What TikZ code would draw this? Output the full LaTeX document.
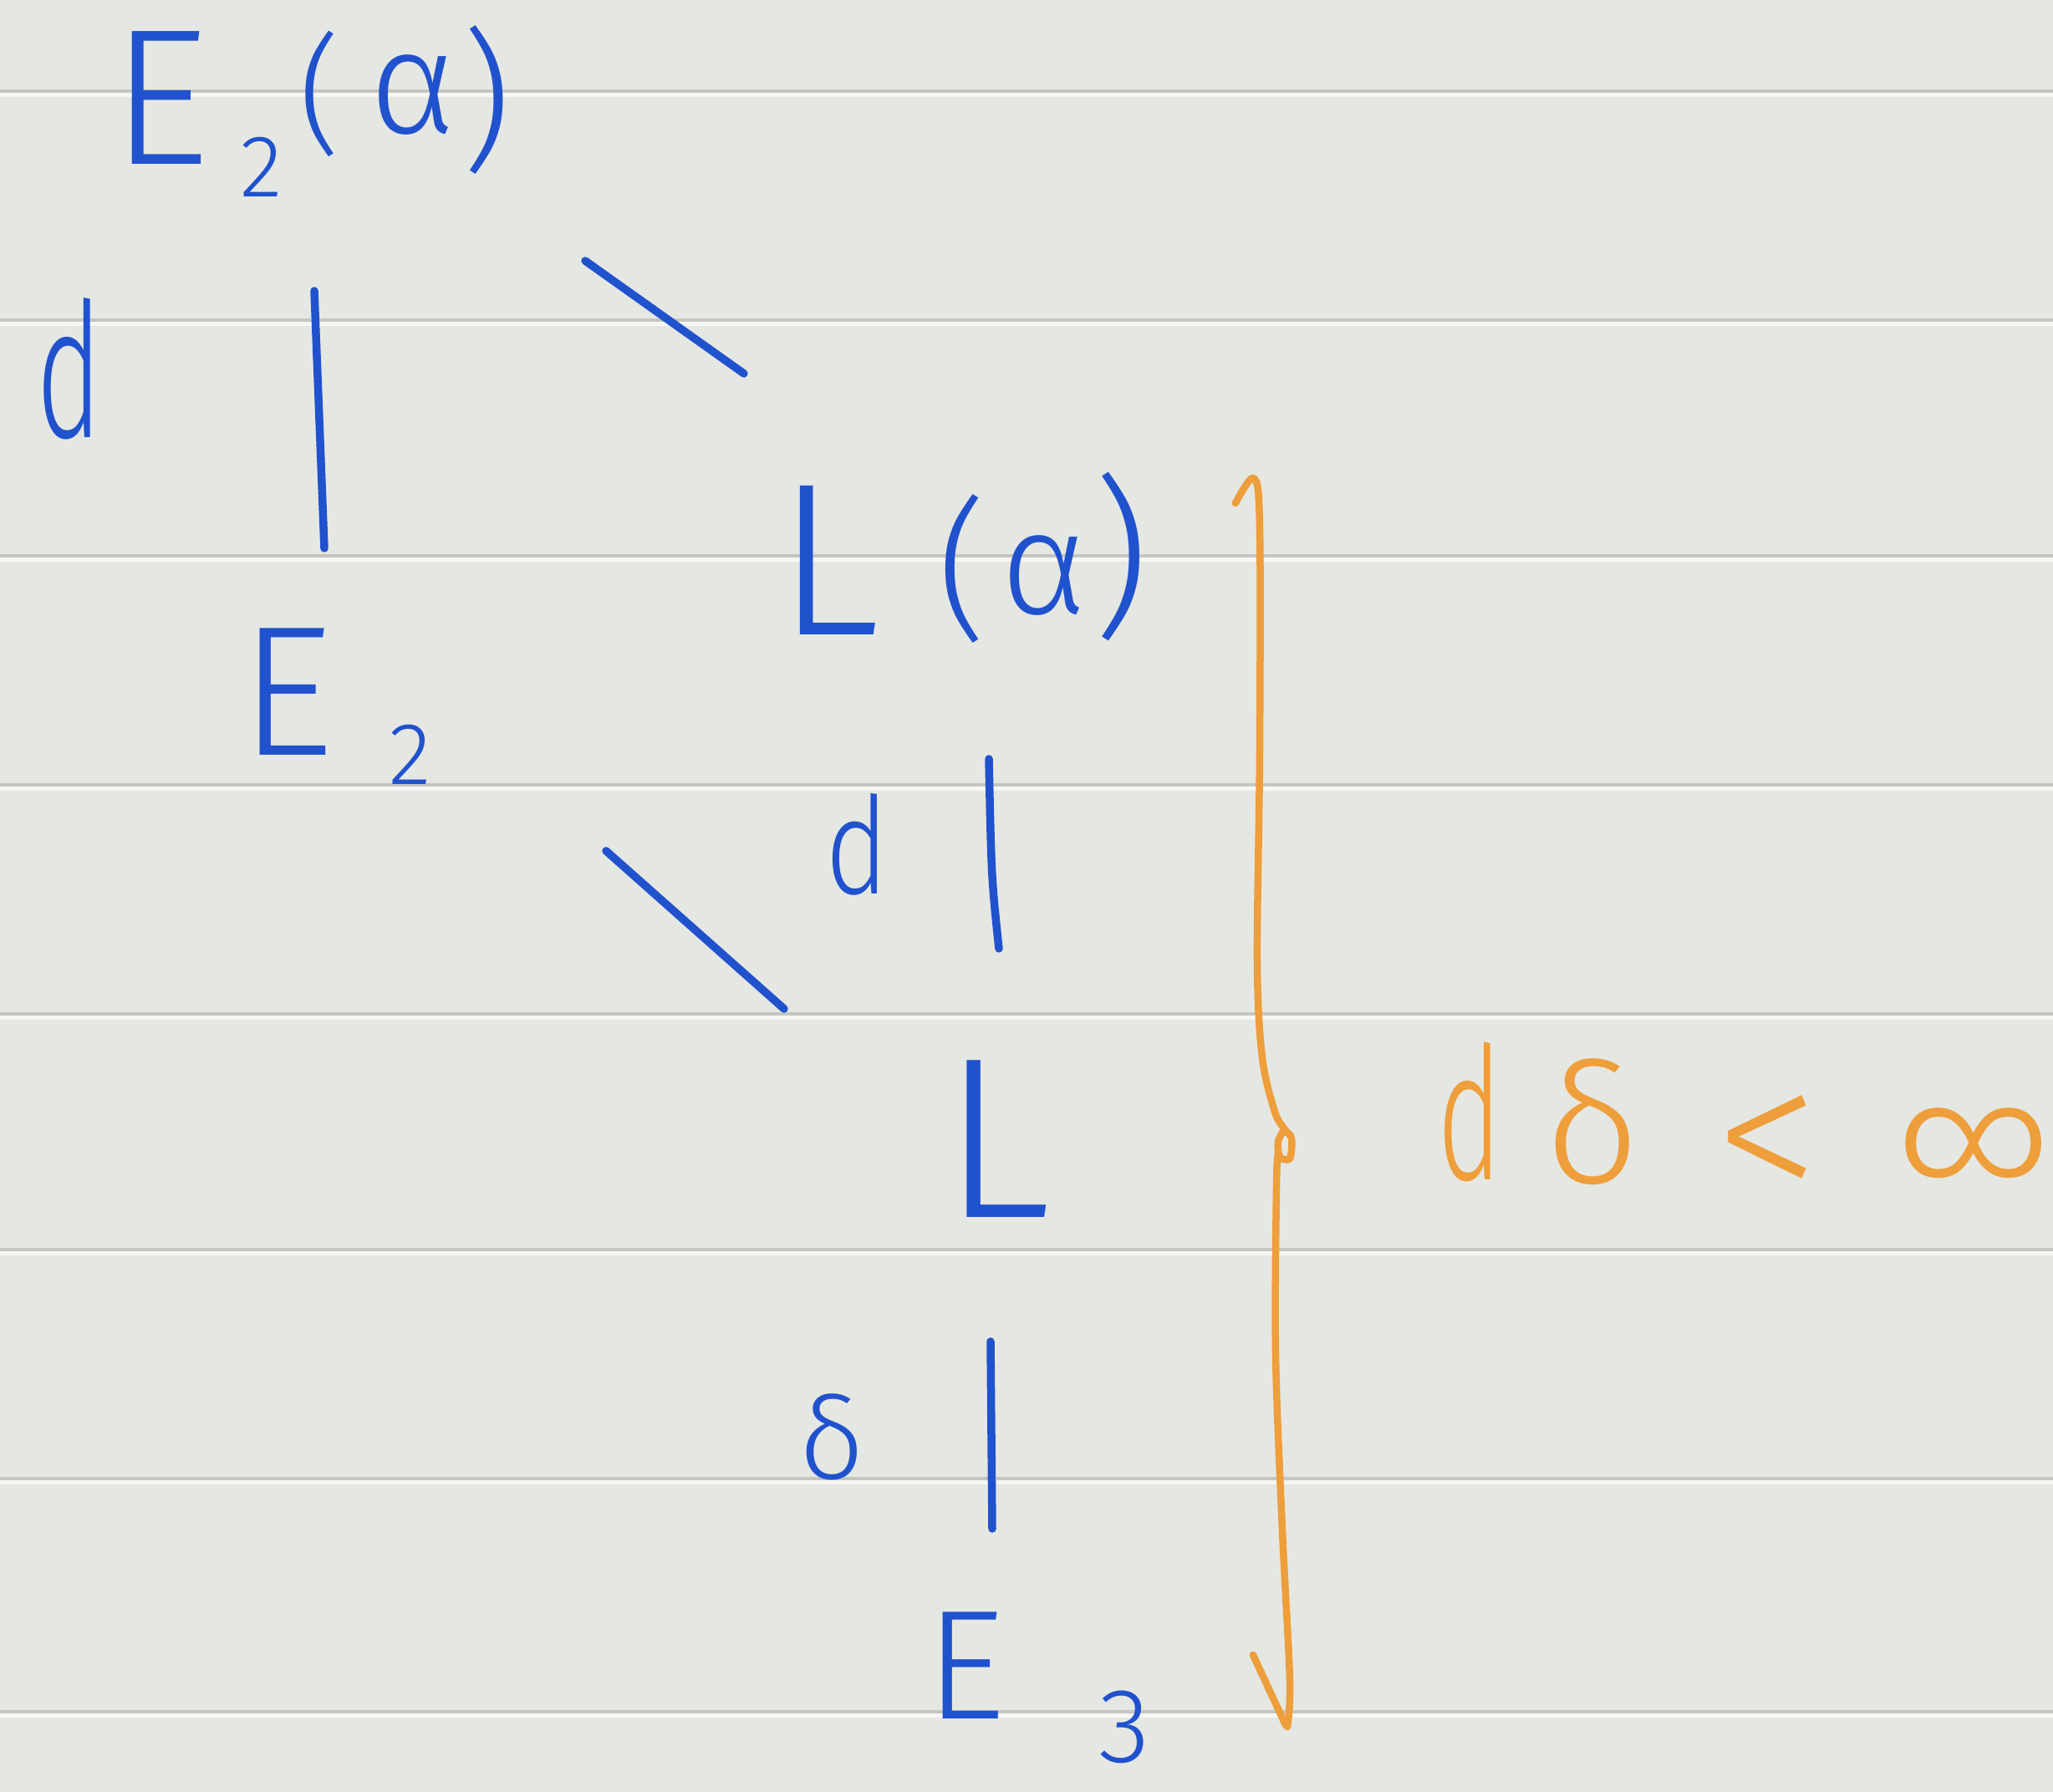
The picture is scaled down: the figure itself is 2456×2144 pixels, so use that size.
\documentclass[tikz,border=0pt]{standalone}
\usepackage{fontspec}
\setmainfont{Fira Sans Light}
\newcommand\gsz[1]{\fontsize{#1}{#1}\selectfont}
\definecolor{paper}{RGB}{229,231,227}
\definecolor{ruleg}{RGB}{196,198,194}
\definecolor{rulew}{RGB}{246,247,245}
\definecolor{inkblue}{RGB}{33,82,205}
\definecolor{inkorange}{RGB}{238,158,58}
\begin{document}
\begin{tikzpicture}[x=0.1mm,y=-0.1mm,
  glyph/.style={inner sep=0pt,outer sep=0pt,anchor=center},
  bl/.style={glyph,text=inkblue},
  og/.style={glyph,text=inkorange},
  bstroke/.style={draw=inkblue,line width=0.95mm,line cap=round,line join=round},
  ostroke/.style={draw=inkorange,line width=0.85mm,line cap=round,line join=round}]
\fill[paper] (0,0) rectangle (2456,2144);
\useasboundingbox (0,0) rectangle (2456,2144);
\foreach \ry in {110,384,666,940,1214,1496,1770,2049}{
  \fill[ruleg] (0,\ry-3) rectangle (2456,\ry+1);
  \fill[rulew] (0,\ry+1) rectangle (2456,\ry+6);
}
% E_2(alpha)
\node[bl,font=\gsz{66}] (ta-E) at (192,117) {E};
\node[bl,font=\gsz{30}] (ta-2) at (313,200) {2};
\node[bl,font=\gsz{44}] (ta-lp) at (383,112) {(};
\node[bl,font=\gsz{50}] (ta-a) at (494,114) {α};
\node[bl,font=\gsz{52}] (ta-rp) at (582,120) {)};
% left d
\node[bl,font=\gsz{64}] (ld) at (83,441) {\scalebox{0.6}[1]{d}};
% E_2
\node[bl,font=\gsz{63}] (mb-E) at (343,828) {E};
\node[bl,font=\gsz{30}] (mb-2) at (491,903) {2};
% L(alpha)
\node[bl,font=\gsz{74}] (la-L) at (991,670) {L};
\node[bl,font=\gsz{52}] (la-lp) at (1151,681) {(};
\node[bl,font=\gsz{50}] (la-a) at (1249,689) {α};
\node[bl,font=\gsz{59}] (la-rp) at (1341,666) {)};
% d middle
\node[bl,font=\gsz{46}] (md) at (1025,1010) {\scalebox{0.8}[1]{d}};
% L
\node[bl,font=\gsz{78}] (ml) at (1192,1363) {L};
% delta
\node[bl,font=\gsz{39}] (dl) at (995,1719) {δ};
% E_3
\node[bl,font=\gsz{53}] (e3-E) at (1155,1993) {E};
\node[bl,font=\gsz{36}] (e3-3) at (1345,2066) {3};
% connectors
\coordinate (v1a) at (376,348); \coordinate (v1b) at (388,656);
\coordinate (g1a) at (700,312); \coordinate (g1b) at (890,447);
\coordinate (v2a) at (1183,908); \coordinate (v2b) at (1195,1135);
\coordinate (g2a) at (725,1018); \coordinate (g2b) at (938,1207);
\coordinate (v3a) at (1185,1605); \coordinate (v3b) at (1187,1829);
\draw[bstroke] (v1a) -- (v1b);
\draw[bstroke] (g1a) -- (g1b);
\draw[bstroke] (v2a) .. controls (1186,1050) .. (v2b);
\draw[bstroke] (g2a) -- (g2b);
\draw[bstroke] (v3a) -- (v3b);
% orange brace
\draw[ostroke] plot[smooth,tension=0.55] coordinates {(1478,602) (1500,572) (1507,630) (1507,900) (1504,1150) (1510,1265) (1525,1330) (1536,1350) (1545,1362) (1543,1386) (1531,1384) (1529,1366) (1536,1352)};
\draw[ostroke] plot[smooth,tension=0.55] coordinates {(1529,1380) (1527,1420) (1526,1620) (1534,1830) (1543,2010) (1540,2066)};
\draw[ostroke] (1499,1980) -- (1538,2064);
% orange text
\node[og,font=\gsz{63}] (od) at (1758,1330) {\scalebox{0.6}[1]{d}};
\node[og,font=\gsz{57}] (odl) at (1905,1342) {δ};
\node[og,font=\gsz{72}] (olt) at (2114,1378) {<};
\node[og,font=\gsz{62}] (oinf) at (2361,1382) {∞};
\end{tikzpicture}
\end{document}
